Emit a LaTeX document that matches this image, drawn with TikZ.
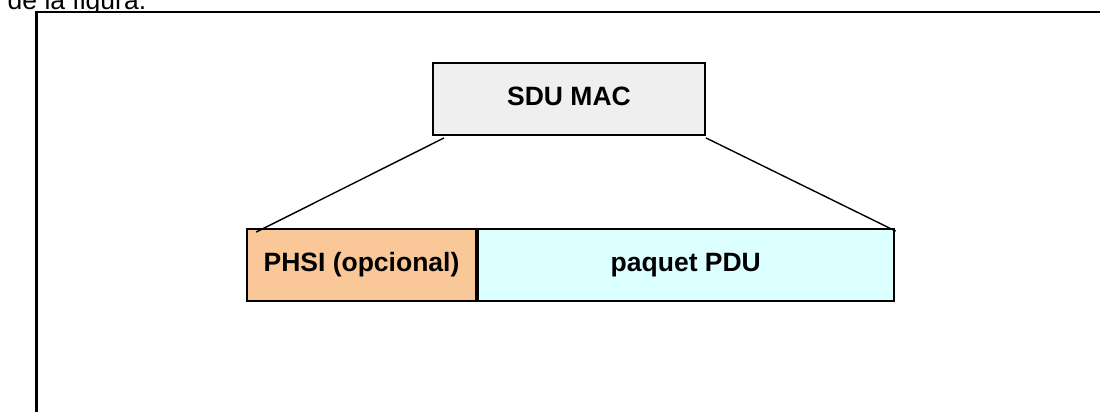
\documentclass[tikz,border=0pt]{standalone}
\usepackage{fontspec}
\setmainfont{Liberation Sans}
\usetikzlibrary{calc}
\definecolor{sdufill}{HTML}{EFEFEF}
\definecolor{phsifill}{HTML}{FAC898}
\definecolor{pdufill}{HTML}{DCFFFF}
\tikzset{
  bigfont/.style={font=\fontsize{26.5}{30}\selectfont},
  box/.style={draw, line width=1.8pt, inner sep=0pt, minimum height=72pt,
    text height=19pt, text depth=6pt,
    font=\bfseries\fontsize{26.5}{30}\selectfont},
  link/.style={line width=1.4pt},
  frame/.style={draw, line width=2.3pt, fill=white}
}
\begin{document}
\begin{tikzpicture}[x=1pt,y=-1pt]
\useasboundingbox (0,0) rectangle (1100,412);
\clip (0,0) rectangle (1100,412);
% running text above the frame
\node[bigfont, anchor=base west, inner sep=0pt] (caption) at (7.5,9.5) {de la figura.};
% the frame covers the lower part of the text
\draw[frame] (36.5,12) rectangle (1130,440);
% boxes
\node[box, fill=sdufill, minimum width=272pt] (sdu) at (569,99) {SDU MAC};
\node[box, fill=phsifill, minimum width=229pt] (phsi) at (361.5,265) {PHSI (opcional)};
\node[box, fill=pdufill, minimum width=416pt, anchor=west] (pdu) at (phsi.east) {paquet PDU};
% connectors
\coordinate (l1) at ($(sdu.south west)+(12,2)$);
\coordinate (l2) at ($(phsi.north west)+(10,4)$);
\coordinate (r1) at ($(sdu.south east)+(0,2)$);
\coordinate (r2) at ($(pdu.north east)+(1,3)$);
\draw[link] (l1) -- (l2);
\draw[link] (r1) -- (r2);
\end{tikzpicture}
\end{document}
